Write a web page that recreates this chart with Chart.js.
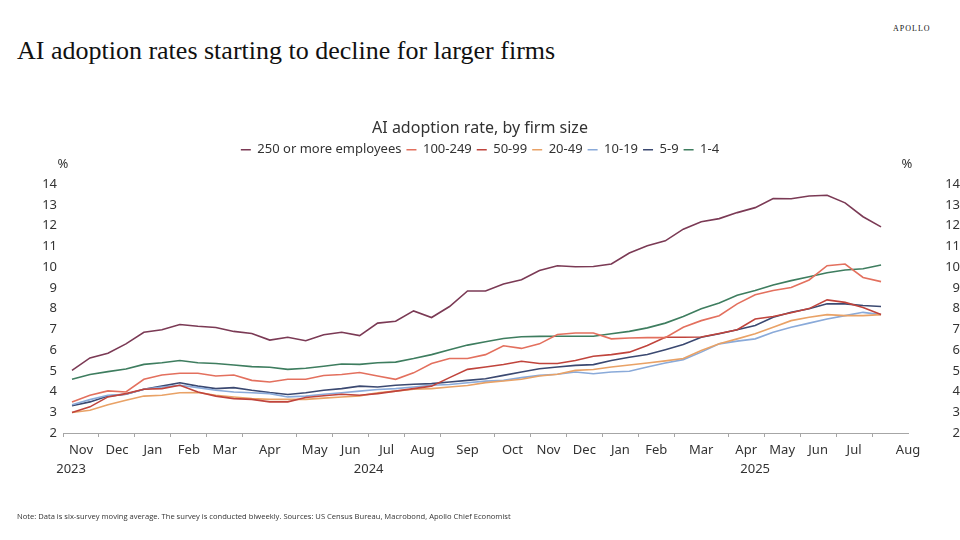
<!DOCTYPE html>
<html>
<head>
<meta charset="utf-8">
<script src="https://cdn.jsdelivr.net/npm/chart.js@4.4.1/dist/chart.umd.min.js"></script>
<style>
html, body { margin: 0; padding: 0; background: #fff; }
#page { position: relative; width: 960px; height: 540px; overflow: hidden; }
#headline { position: absolute; left: 17px; top: 36px; font-family: 'Liberation Serif', serif; font-size: 26px; color: #111; white-space: nowrap; }
#brand { position: absolute; left: 893px; top: 24px; font-family: 'Liberation Serif', serif; font-size: 8px; letter-spacing: 1px; color: #111; }
#note { position: absolute; left: 17px; top: 511px; font-family: 'Open Sans', sans-serif; font-size: 7.6px; color: #333; white-space: nowrap; }
#chartBox { position: absolute; left: 0; top: 0; width: 960px; height: 540px; }
</style>
</head>
<body>
<div id="page">
  <div id="headline">AI adoption rates starting to decline for larger firms</div>
  <div id="brand">APOLLO</div>
  <div id="chartBox"><canvas id="adoptionChart"></canvas></div>
  <div id="note">Note: Data is six-survey moving average. The survey is conducted biweekly. Sources: US Census Bureau, Macrobond, Apollo Chief Economist</div>
</div>
<script>
// month groups on the x axis (biweekly surveys, 2 or 3 per month)
const monthLabels = ['Nov', 'Dec', 'Jan', 'Feb', 'Mar', 'Apr', 'May', 'Jun', 'Jul', 'Aug', 'Sep',
                     'Oct', 'Nov', 'Dec', 'Jan', 'Feb', 'Mar', 'Apr', 'May', 'Jun', 'Jul', 'Aug'];
const monthSlots = [2, 2, 2, 2, 2, 3, 2, 2, 2, 2, 3, 2, 2, 2, 2, 2, 3, 2, 2, 2, 2, 2];
const yearLabels = ['2023', '2024', '2025'];
const yearMonths = [2, 12, 8];
const yTicks = [2, 3, 4, 5, 6, 7, 8, 9, 10, 11, 12, 13, 14];

const seriesNames = ['250 or more employees', '100-249', '50-99', '20-49', '10-19', '5-9', '1-4'];
const seriesColors = ['#7b3a55', '#e3705e', '#c0443c', '#e9a266', '#8aaad9', '#3b4971', '#3e7d5f'];

const emp250 = [5.02, 5.62, 5.85, 6.30, 6.86, 6.98, 7.23, 7.15, 7.09, 6.90, 6.80, 6.48, 6.62, 6.45, 6.74, 6.86, 6.70,
                7.30, 7.39, 7.89, 7.57, 8.10, 8.85, 8.85, 9.19, 9.39, 9.84, 10.07, 10.02, 10.03, 10.15,
                10.68, 11.03, 11.27, 11.83, 12.19, 12.34, 12.63, 12.87, 13.31, 13.30, 13.43, 13.47, 13.10, 12.43, 11.94];
const emp100 = [3.50, 3.82, 4.03, 3.98, 4.59, 4.80, 4.88, 4.88, 4.75, 4.80, 4.54, 4.46, 4.59, 4.59, 4.77, 4.82, 4.92,
                4.75, 4.59, 4.90, 5.35, 5.59, 5.59, 5.78, 6.21, 6.08, 6.30, 6.75, 6.82, 6.82, 6.54,
                6.58, 6.60, 6.60, 7.10, 7.42, 7.66, 8.23, 8.67, 8.87, 9.02, 9.38, 10.07, 10.15, 9.50, 9.30];
const emp50 = [2.99, 3.26, 3.74, 3.90, 4.11, 4.14, 4.30, 3.98, 3.78, 3.66, 3.62, 3.50, 3.50, 3.71, 3.80, 3.87, 3.82,
               3.90, 4.02, 4.14, 4.26, 4.67, 5.07, 5.18, 5.30, 5.46, 5.35, 5.35, 5.50, 5.70, 5.78,
               5.90, 6.22, 6.62, 6.62, 6.63, 6.80, 6.98, 7.50, 7.62, 7.80, 8.00, 8.42, 8.30, 8.05, 7.71];
const emp20 = [2.99, 3.10, 3.36, 3.58, 3.78, 3.82, 3.94, 3.95, 3.82, 3.74, 3.66, 3.62, 3.62, 3.62, 3.68, 3.74, 3.79,
               3.94, 4.02, 4.11, 4.14, 4.22, 4.29, 4.43, 4.51, 4.59, 4.75, 4.83, 5.02, 5.06, 5.18,
               5.28, 5.38, 5.48, 5.59, 5.98, 6.30, 6.54, 6.79, 7.10, 7.42, 7.58, 7.71, 7.66, 7.66, 7.71];
const emp10 = [3.36, 3.61, 3.82, 3.87, 4.11, 4.22, 4.30, 4.19, 4.06, 3.98, 3.94, 3.90, 3.74, 3.78, 3.87, 3.94, 4.02,
               4.10, 4.14, 4.22, 4.30, 4.34, 4.42, 4.50, 4.54, 4.67, 4.78, 4.83, 4.94, 4.86, 4.94,
               4.98, 5.18, 5.38, 5.54, 5.90, 6.30, 6.43, 6.54, 6.86, 7.10, 7.30, 7.50, 7.66, 7.82, 7.71];
const emp5 = [3.31, 3.50, 3.78, 3.87, 4.11, 4.26, 4.42, 4.26, 4.14, 4.19, 4.06, 3.95, 3.86, 3.94, 4.06, 4.14, 4.26,
              4.22, 4.30, 4.35, 4.38, 4.46, 4.54, 4.62, 4.78, 4.94, 5.10, 5.18, 5.26, 5.30, 5.50,
              5.65, 5.79, 6.02, 6.27, 6.62, 6.79, 6.98, 7.18, 7.58, 7.82, 7.99, 8.23, 8.23, 8.15, 8.10];
const emp1 = [4.59, 4.82, 4.96, 5.09, 5.31, 5.39, 5.50, 5.39, 5.35, 5.28, 5.20, 5.17, 5.07, 5.12, 5.22, 5.33, 5.31,
              5.39, 5.42, 5.59, 5.78, 6.02, 6.24, 6.40, 6.56, 6.64, 6.66, 6.67, 6.67, 6.67, 6.79,
              6.90, 7.07, 7.30, 7.62, 7.99, 8.27, 8.64, 8.87, 9.14, 9.35, 9.54, 9.73, 9.86, 9.92, 10.10];
const seriesValues = [emp250, emp100, emp50, emp20, emp10, emp5, emp1];

const FONT = "'Noto Sans', 'Open Sans', sans-serif";
const TEXT = '#333333';
const AXIS_GREY = '#a6a6a6';

// slot boundaries: each survey is one slot, first slot centred on 0
const bounds = [-0.5];
monthSlots.forEach(n => bounds.push(bounds[bounds.length - 1] + n));
const xMin = bounds[0];
const xMax = bounds[bounds.length - 1];

// tick list for the month axis: boundary marks (no text) + month names between them
const monthTicks = [];
bounds.slice(0, -1).forEach(b => monthTicks.push({ value: b, label: '', mark: true }));
monthLabels.forEach((m, i) => {
    const last = i === monthLabels.length - 1;
    monthTicks.push({ value: last ? bounds[i + 1] : (bounds[i] + bounds[i + 1]) / 2, label: m, mark: false });
});
monthTicks.sort((a, b) => a.value - b.value);

// year labels centred under their months (the first, partial year sits at the left edge)
const yearTicks = [];
let mStart = 0;
yearLabels.forEach((y, i) => {
    const a = bounds[mStart];
    const b = bounds[mStart + yearMonths[i]];
    yearTicks.push({ value: i === 0 ? a + 0.45 : (a + b) / 2, label: y });
    mStart += yearMonths[i];
});

const datasets = seriesNames.map((name, i) => ({
    label: name,
    data: seriesValues[i].map((v, k) => ({ x: k, y: v })),
    borderColor: seriesColors[i],
    backgroundColor: seriesColors[i],
    borderWidth: 1.6,
    pointRadius: 0,
    tension: 0
}));

// "%" unit captions above both value axes
const unitLabels = {
    id: 'unitLabels',
    afterDraw(chart) {
        const { ctx, chartArea } = chart;
        ctx.save();
        ctx.font = '13px ' + FONT;
        ctx.fillStyle = TEXT;
        ctx.textAlign = 'center';
        ctx.textBaseline = 'middle';
        ctx.fillText('%', chartArea.left, chartArea.top - 20);
        ctx.fillText('%', chartArea.right - 1, chartArea.top - 20);
        ctx.restore();
    }
};

// extra room between the legend and the plot for the "%" captions
const legendGap = {
    id: 'legendGap',
    beforeInit(chart) {
        const fit = chart.legend.fit;
        chart.legend.fit = function () {
            fit.call(this);
            this.height += 18;
        };
    }
};

const yAxis = (pos) => ({
    position: pos,
    min: 2,
    max: 14,
    afterBuildTicks: s => { s.ticks = yTicks.map(v => ({ value: v })); },
    grid: { display: false, drawTicks: false },
    border: { display: false },
    ticks: {
        color: TEXT,
        font: { family: FONT, size: 13 },
        padding: pos === 'left' ? 6 : 4,
        crossAlign: pos === 'left' ? 'near' : 'far'
    },
    afterFit: s => { s.width = pos === 'left' ? 63 : 52; }
});

new Chart(document.getElementById('adoptionChart'), {
    type: 'line',
    data: { datasets },
    options: {
        responsive: true,
        maintainAspectRatio: false,
        animation: false,
        layout: { padding: { top: 119, bottom: 61, left: 0, right: 0 } },
        plugins: {
            title: {
                display: true,
                text: 'AI adoption rate, by firm size',
                color: TEXT,
                font: { family: FONT, size: 16, weight: 'normal' },
                padding: { top: 0, bottom: 0 }
            },
            legend: {
                display: true,
                labels: {
                    color: TEXT,
                    font: { family: FONT, size: 13 },
                    usePointStyle: true,
                    pointStyle: 'line',
                    pointStyleWidth: 10,
                    boxHeight: 12,
                    padding: 5
                }
            },
            tooltip: { enabled: false }
        },
        scales: {
            x: {
                type: 'linear',
                min: xMin,
                max: xMax,
                position: 'bottom',
                afterBuildTicks: s => { s.ticks = monthTicks.map(t => ({ value: t.value })); },
                ticks: {
                    autoSkip: false,
                    maxRotation: 0,
                    padding: 5,
                    color: TEXT,
                    font: { family: FONT, size: 13 },
                    callback: (v, i) => monthTicks[i].label
                },
                grid: {
                    drawOnChartArea: false,
                    drawTicks: true,
                    tickLength: 4,
                    tickColor: c => (monthTicks[c.index] && monthTicks[c.index].mark) ? AXIS_GREY : 'rgba(0,0,0,0)'
                },
                border: { color: AXIS_GREY, width: 1 },
                afterFit: s => { s.height = 28; }
            },
            xYear: {
                type: 'linear',
                min: xMin,
                max: xMax,
                position: 'bottom',
                afterBuildTicks: s => { s.ticks = yearTicks.map(t => ({ value: t.value })); },
                ticks: {
                    autoSkip: false,
                    maxRotation: 0,
                    padding: 0,
                    color: TEXT,
                    font: { family: FONT, size: 13 },
                    callback: (v, i) => yearTicks[i].label
                },
                grid: { display: false, drawTicks: false },
                border: { display: false },
                afterFit: s => { s.height = 18; }
            },
            y: yAxis('left'),
            y2: yAxis('right')
        }
    },
    plugins: [unitLabels, legendGap]
});
</script>
</body>
</html>
